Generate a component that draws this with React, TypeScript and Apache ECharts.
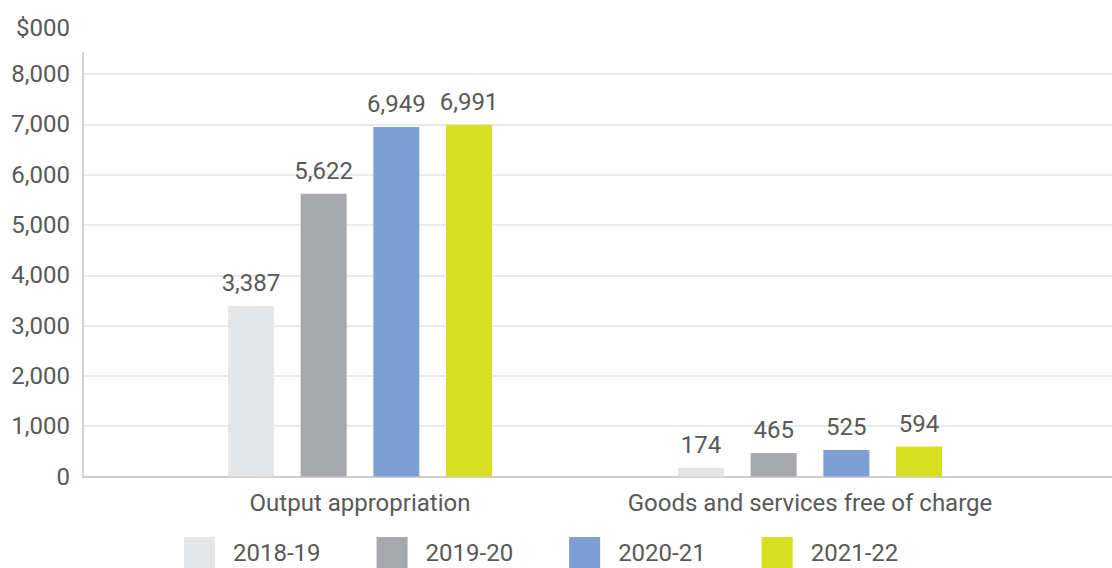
import React, { useEffect, useRef } from "react";
import * as echarts from "echarts";

const categories = ["Output appropriation", "Goods and services free of charge"];
const seriesNames = ["2018-19", "2019-20", "2020-21", "2021-22"];
const values2018 = [3387, 174];
const values2019 = [5622, 465];
const values2020 = [6949, 525];
const values2021 = [6991, 594];
const colors = ["#e5e6e8", "#a7a8ac", "#7e9fd3", "#d6e021"];
const yTicks = { min: 0, max: 8000, interval: 1000 };
const unitLabel = "$000";

const FONT = "Roboto";
const TEXT = "#595959";
const FS = 24;

export default function App() {
  const ref = useRef<HTMLDivElement>(null);
  useEffect(() => {
    document.body.style.margin = "0";
    const chart = echarts.init(ref.current!, null, { renderer: "svg" });
    const allValues = [values2018, values2019, values2020, values2021];
    const fmt = (v: number) => Number(v).toLocaleString("en-US");
    chart.setOption({
      animation: false,
      textStyle: { fontFamily: FONT },
      grid: [
        { left: 83, right: 0, top: 74, bottom: 91.5 },
        { left: 135, right: 77, top: 74, bottom: 91.5 },
      ],
      xAxis: [
        {
          gridIndex: 0,
          type: "value",
          min: 0,
          max: 1,
          axisLine: { show: true, lineStyle: { color: "#c4c4c4", width: 1.5 } },
          axisTick: { show: false },
          axisLabel: { show: false },
          splitLine: { show: false },
        },
        {
          gridIndex: 1,
          type: "category",
          data: categories,
          axisLine: { show: false },
          axisTick: { show: false },
          axisLabel: { color: TEXT, fontSize: FS, fontFamily: FONT, margin: 14, interval: 0 },
        },
      ],
      yAxis: [
        {
          gridIndex: 0,
          type: "value",
          min: yTicks.min,
          max: yTicks.max,
          interval: yTicks.interval,
          axisLine: { show: true, lineStyle: { color: "#c4c4c4", width: 1.5 } },
          axisTick: { show: false },
          axisLabel: {
            color: TEXT,
            fontSize: FS,
            fontFamily: FONT,
            margin: 13,
            formatter: (v: number) => fmt(v),
          },
          splitLine: { show: true, lineStyle: { color: "#e3e3e3", width: 1.5 } },
        },
        {
          gridIndex: 1,
          type: "value",
          min: yTicks.min,
          max: yTicks.max,
          interval: yTicks.interval,
          show: false,
        },
      ],
      legend: {
        data: seriesNames,
        left: 184,
        top: 537,
        padding: 0,
        icon: "rect",
        itemWidth: 31,
        itemHeight: 31,
        itemGap: 56,
        textStyle: {
          color: TEXT,
          fontSize: FS,
          fontFamily: FONT,
          lineHeight: 20,
          padding: [7, 0, 0, 13],
        },
      },
      graphic: [
        {
          type: "line",
          shape: { x1: 83, y1: 52, x2: 83, y2: 74 },
          style: { stroke: "#c4c4c4", lineWidth: 1.5 },
        },
        {
          type: "text",
          x: 70,
          y: 28,
          style: {
            text: unitLabel,
            fill: TEXT,
            font: `${FS}px ${FONT}`,
            textAlign: "right",
            textVerticalAlign: "middle",
          },
        },
      ],
      series: seriesNames.map((name, i) => ({
        name,
        type: "bar",
        xAxisIndex: 1,
        yAxisIndex: 1,
        data: allValues[i],
        barWidth: 46,
        barGap: "58%",
        itemStyle: { color: colors[i] },
        label: {
          show: true,
          position: "top",
          distance: 11,
          color: TEXT,
          fontSize: FS,
          fontFamily: FONT,
          formatter: (p: any) => fmt(p.value),
        },
      })),
    });
    return () => chart.dispose();
  }, []);
  return (
    <div
      ref={ref}
      style={{ position: "fixed", left: 0, top: 0, width: 1112, height: 568, overflow: "hidden", background: "#fff" }}
    />
  );
}
